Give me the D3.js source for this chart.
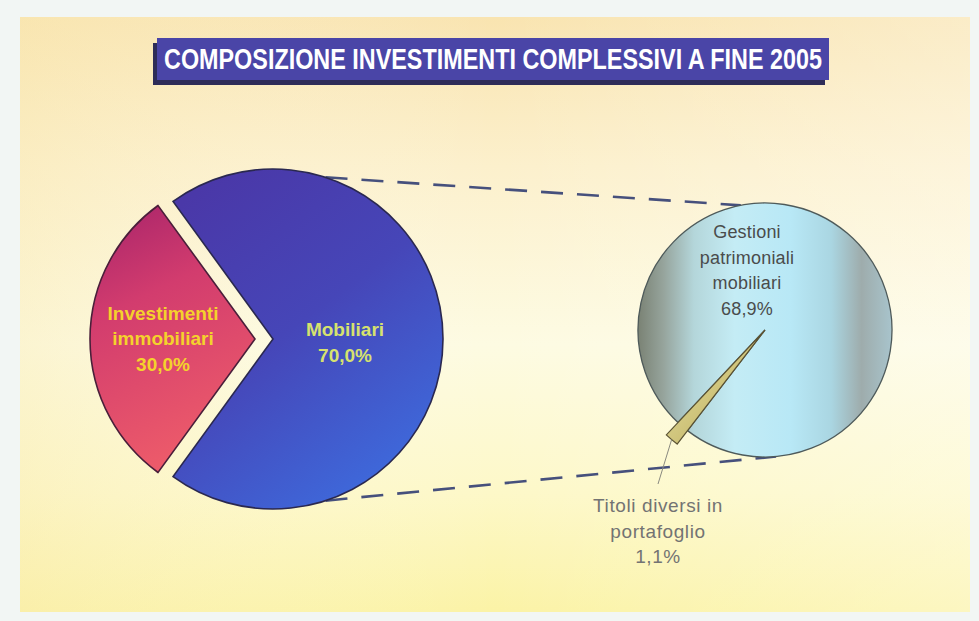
<!DOCTYPE html>
<html>
<head>
<meta charset="utf-8">
<script src="https://cdn.jsdelivr.net/npm/d3@7"></script>
<style>
  html, body { margin: 0; padding: 0; background: #f2f6f4; }
  svg { display: block; }
</style>
</head>
<body>
<div id="chart"></div>
<script>
// Chart data
const title = 'COMPOSIZIONE INVESTIMENTI COMPLESSIVI A FINE 2005';
const mainCategories = ['Investimenti immobiliari', 'Mobiliari'];
const mainValues = [30.0, 70.0];
const detailCategories = ['Titoli diversi in portafoglio', 'Gestioni patrimoniali mobiliari'];
const detailValues = [1.1, 68.9];

const width = 979;
const height = 621;
const fmt = d3.formatLocale({ decimal: ',', thousands: '.', grouping: [3] }).format('.1f');
const deg = Math.PI / 180;

const svg = d3.select('#chart')
  .append('svg')
  .attr('width', width)
  .attr('height', height);

const defs = svg.append('defs');

// Background panel
const bg = defs.append('linearGradient').attr('id', 'bg').attr('x1', 0).attr('y1', 0).attr('x2', 0).attr('y2', 1);
[[0, '#f9e4b0'], [0.25, '#fcf0cc'], [0.55, '#fdfbe2'], [0.8, '#fdf8c8'], [1, '#fbf3a6']]
  .forEach(([o, c]) => bg.append('stop').attr('offset', o).attr('stop-color', c));

const bgSide = defs.append('linearGradient').attr('id', 'bgSide').attr('x1', 0).attr('y1', 0).attr('x2', 1).attr('y2', 0);
[[0, '#f8e8b0', 0.35], [0.5, '#ffffff', 0], [1, '#ffffff', 0.3]]
  .forEach(([o, c, a]) => bgSide.append('stop').attr('offset', o).attr('stop-color', c).attr('stop-opacity', a));

svg.append('rect').attr('x', 20).attr('y', 17).attr('width', 950).attr('height', 595).attr('fill', 'url(#bg)');
svg.append('rect').attr('x', 20).attr('y', 17).attr('width', 950).attr('height', 595).attr('fill', 'url(#bgSide)');

// Title box
svg.append('rect')
  .attr('x', 153).attr('y', 43).attr('width', 672).attr('height', 42)
  .attr('fill', '#2e2c58');
svg.append('rect')
  .attr('x', 157).attr('y', 38).attr('width', 672).attr('height', 42)
  .attr('fill', '#4a45a7');
svg.append('text')
  .attr('x', 493).attr('y', 69)
  .attr('text-anchor', 'middle')
  .attr('font-family', '"Liberation Sans Narrow", "Arial Narrow", "Liberation Sans", Arial, sans-serif')
  .attr('font-weight', 'bold')
  .attr('font-size', 29)
  .attr('fill', '#ffffff')
  .attr('textLength', 658)
  .attr('lengthAdjust', 'spacingAndGlyphs')
  .text(title);

// Gradients for slices
const blueGrad = defs.append('linearGradient').attr('id', 'blueGrad').attr('x1', 0.2).attr('y1', 0).attr('x2', 0.8).attr('y2', 1);
[[0, '#4a38a8'], [0.45, '#4646b8'], [1, '#3d6ee0']]
  .forEach(([o, c]) => blueGrad.append('stop').attr('offset', o).attr('stop-color', c));

const redGrad = defs.append('linearGradient').attr('id', 'redGrad').attr('x1', 0).attr('y1', 0).attr('x2', 0.3).attr('y2', 1);
[[0, '#a6236a'], [0.4, '#d23c6e'], [1, '#ec5a6a']]
  .forEach(([o, c]) => redGrad.append('stop').attr('offset', o).attr('stop-color', c));

const cyanGrad = defs.append('linearGradient').attr('id', 'cyanGrad').attr('x1', 0).attr('y1', 0).attr('x2', 1).attr('y2', 0);
[[0, '#7a8274'], [0.1, '#96a49c'], [0.22, '#b4d6da'], [0.38, '#c4ecf5'], [0.6, '#b8e8f6'], [0.76, '#aad6e2'], [0.88, '#9eacac'], [1, '#a8c4cc']]
  .forEach(([o, c]) => cyanGrad.append('stop').attr('offset', o).attr('stop-color', c));

const khakiGrad = defs.append('linearGradient').attr('id', 'khakiGrad').attr('x1', 0).attr('y1', 0).attr('x2', 1).attr('y2', 1);
[[0, '#ece6a8'], [1, '#b5a552']]
  .forEach(([o, c]) => khakiGrad.append('stop').attr('offset', o).attr('stop-color', c));

// Main pie (left)
const mainCenter = [273, 339];
const mainStart = 216 * deg;
const mainPie = d3.pie().sort(null).startAngle(mainStart).endAngle(mainStart + 2 * Math.PI);
const mainArcs = mainPie(mainValues);
const mainRadius = [165, 170];
const mainExplode = [18, 0];
const mainFills = ['url(#redGrad)', 'url(#blueGrad)'];

// Detail pie (right)
const detailCenter = [765, 330];
const detailRadius = 127;
const detailStart = 217.6 * deg;
const detailPie = d3.pie().sort(null).startAngle(detailStart).endAngle(detailStart + 2 * Math.PI);
const detailArcs = detailPie(detailValues);

// Connector lines from main pie to detail pie
function pointOn(center, r, a) {
  return [center[0] + r * Math.sin(a), center[1] - r * Math.cos(a)];
}
const connectors = [
  [pointOn(mainCenter, 170, 18 * deg), pointOn(detailCenter, detailRadius, -11 * deg)],
  [pointOn(mainCenter, 170, 162 * deg), pointOn(detailCenter, detailRadius, 175 * deg)]
];
svg.append('g')
  .selectAll('line')
  .data(connectors)
  .join('line')
  .attr('x1', d => d[0][0]).attr('y1', d => d[0][1])
  .attr('x2', d => d[1][0]).attr('y2', d => d[1][1])
  .attr('stroke', '#46507c')
  .attr('stroke-width', 2.6)
  .attr('stroke-dasharray', '22 14');

const mainG = svg.append('g').attr('transform', `translate(${mainCenter})`);

mainG.selectAll('path')
  .data(mainArcs)
  .join('path')
  .attr('transform', (d, i) => {
    const mid = (d.startAngle + d.endAngle) / 2;
    return `translate(${mainExplode[i] * Math.sin(mid)}, ${-mainExplode[i] * Math.cos(mid)})`;
  })
  .attr('d', (d, i) => d3.arc().innerRadius(0).outerRadius(mainRadius[i])(d))
  .attr('fill', (d, i) => mainFills[i])
  .attr('stroke', (d, i) => i === 0 ? '#4a1f3a' : '#2a2850')
  .attr('stroke-width', 1.6)
  .attr('stroke-linejoin', 'miter');

// Main labels
const mainLabelPos = [[-110, 0], [72, 4]];
const mainLabelColor = ['#f4d22c', '#d6e26e'];
mainArcs.forEach((d, i) => {
  const lines = i === 0 ? ['Investimenti', 'immobiliari'] : ['Mobiliari'];
  lines.push(fmt(mainValues[i]) + '%');
  const t = mainG.append('text')
    .attr('text-anchor', 'middle')
    .attr('font-family', '"Liberation Sans", Arial, sans-serif')
    .attr('font-weight', 'bold')
    .attr('font-size', 19)
    .attr('fill', mainLabelColor[i]);
  const y0 = mainLabelPos[i][1] - (lines.length - 1) * 25.5 / 2 + 6;
  lines.forEach((s, k) => {
    t.append('tspan')
      .attr('x', mainLabelPos[i][0])
      .attr('y', y0 + k * 25.5)
      .text(s);
  });
});

const detailG = svg.append('g').attr('transform', `translate(${detailCenter})`);

detailG.append('path')
  .attr('d', d3.arc().innerRadius(0).outerRadius(detailRadius)(detailArcs[1]))
  .attr('fill', 'url(#cyanGrad)')
  .attr('stroke', '#4e5a5a')
  .attr('stroke-width', 1.3);

const smallArc = d3.arc().innerRadius(0).outerRadius(144);
detailG.append('path')
  .attr('d', smallArc(detailArcs[0]))
  .attr('fill', 'url(#khakiGrad)')
  .attr('stroke', '#5a5232')
  .attr('stroke-width', 1.2);

// Leader line for the small slice
const smallMid = (detailArcs[0].startAngle + detailArcs[0].endAngle) / 2;
const leaderStart = [144 * Math.sin(smallMid), -144 * Math.cos(smallMid)];
detailG.append('line')
  .attr('x1', leaderStart[0]).attr('y1', leaderStart[1])
  .attr('x2', -107).attr('y2', 154)
  .attr('stroke', '#8a8a80')
  .attr('stroke-width', 1);

// Detail labels
const detailLines = [
  ['Titoli diversi in', 'portafoglio', fmt(detailValues[0]) + '%'],
  ['Gestioni', 'patrimoniali', 'mobiliari', fmt(detailValues[1]) + '%']
];
const detailLabelPos = [[-107, 182], [-18, -92]];
const detailLabelColor = ['#737373', '#4a4c4c'];
detailLines.forEach((lines, i) => {
  const t = detailG.append('text')
    .attr('text-anchor', 'middle')
    .attr('font-family', '"Liberation Sans", Arial, sans-serif')
    .attr('font-size', i === 0 ? 19 : 18)
    .attr('letter-spacing', i === 0 ? 0.6 : 0.2)
    .attr('fill', detailLabelColor[i]);
  lines.forEach((s, k) => {
    t.append('tspan')
      .attr('x', detailLabelPos[i][0])
      .attr('y', detailLabelPos[i][1] + k * 25.5)
      .text(s);
  });
});
</script>
</body>
</html>
